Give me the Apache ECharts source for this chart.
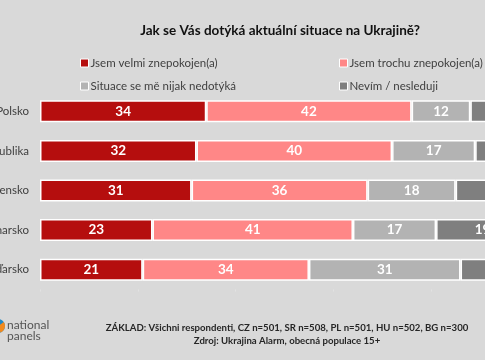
<!DOCTYPE html>
<html>
<head>
<meta charset="utf-8">
<script src="https://cdn.jsdelivr.net/npm/echarts@6/dist/echarts.min.js"></script>
<style>
html,body{margin:0;padding:0;background:#d9d9d9;}
#c{width:485px;height:360px;}
</style>
</head>
<body>
<div id="c"></div>
<script>
const categories = ['Polsko', 'Česká republika', 'Slovensko', 'Bulharsko', 'Maďarsko'];
const seriesNames = ['Jsem velmi znepokojen(a)', 'Jsem trochu znepokojen(a)', 'Situace se mě nijak nedotýká', 'Nevím / nesleduji'];
const velmi = [34, 32, 31, 23, 21];
const trochu = [42, 40, 36, 41, 34];
const nedotyka = [12, 17, 18, 17, 31];
const nevim = [12, 11, 15, 19, 14];
const colors = ['#b50e0e', '#ff8787', '#b3b3b3', '#7f7f7f'];
const xTicks = [0, 20, 40, 60, 80, 100];

const FONT = 'Lato, "Liberation Sans", Arial, sans-serif';
const chart = echarts.init(document.getElementById('c'), null, {renderer: 'canvas'});
const values = [velmi, trochu, nedotyka, nevim];

const legendPos = [[80, 57], [339, 57], [80, 80], [339, 80]];
const legends = seriesNames.map((n, i) => ({
  data: [n], left: legendPos[i][0], top: legendPos[i][1],
  padding: 0,
  icon: 'rect', itemWidth: 8, itemHeight: 8, itemGap: 4,
  itemStyle: {borderColor: '#fff', borderWidth: 1},
  textStyle: {color: '#404040', fontSize: 11.5, fontFamily: FONT, padding: [0,0,0,-3]},
  selectedMode: false
}));

chart.setOption({
  backgroundColor: '#d9d9d9',
  animation: false,
  title: {
    text: 'Jak se Vás dotýká aktuální situace na Ukrajině?',
    left: 275, top: 19, textAlign: 'center',
    textStyle: {fontSize: 13.5, fontWeight: 'bold', color: '#111111', fontFamily: FONT}
  },
  legend: legends,
  grid: {left: 40, top: 91.5, width: 489, height: 198, containLabel: false, outerBoundsMode: 'none'},
  xAxis: {
    type: 'value', min: 0, max: 100, interval: 20,
    axisLine: {show: false}, splitLine: {show: false},
    axisTick: {show: true, length: 2, lineStyle: {color: '#e2e2e2'}},
    axisLabel: {show: false}
  },
  yAxis: {
    type: 'category', data: categories, inverse: true,
    axisLine: {show: false}, axisTick: {show: false},
    axisLabel: {color: '#404040', fontSize: 11.5, fontFamily: FONT, margin: 11}
  },
  series: values.map((v, i) => ({
    name: seriesNames[i], type: 'bar', stack: 'total', data: v,
    barWidth: 22,
    itemStyle: {color: colors[i], borderColor: '#ffffff', borderWidth: 1.5},
    label: {show: true, position: 'inside', color: '#ffffff', fontWeight: 'bold', fontSize: 13.5, fontFamily: FONT}
  })),
  graphic: [
    {type: 'text', x: 287, y: 328, style: {text: 'ZÁKLAD: Všichni respondenti, CZ n=501, SR n=508, PL n=501, HU n=502, BG n=300', align: 'center', verticalAlign: 'middle', font: 'bold 9.6px ' + FONT, fill: '#262626'}},
    {type: 'text', x: 287, y: 341, style: {text: 'Zdroj: Ukrajina Alarm, obecná populace 15+', align: 'center', verticalAlign: 'middle', font: 'bold 9.6px ' + FONT, fill: '#262626'}},
    {type: 'circle', shape: {cx: -2, cy: 326, r: 7}, style: {fill: '#1f8ac9'}},
    {type: 'sector', shape: {cx: -2, cy: 326, r: 7, startAngle: -0.6, endAngle: 1.2}, style: {fill: '#f28a1e'}},
    {type: 'text', x: 7, y: 325.5, style: {text: 'national', verticalAlign: 'middle', font: '12px ' + FONT, fill: '#555555'}},
    {type: 'text', x: 7, y: 336.5, style: {text: 'panels', verticalAlign: 'middle', font: '12px ' + FONT, fill: '#555555'}}
  ]
});
</script>
</body>
</html>
